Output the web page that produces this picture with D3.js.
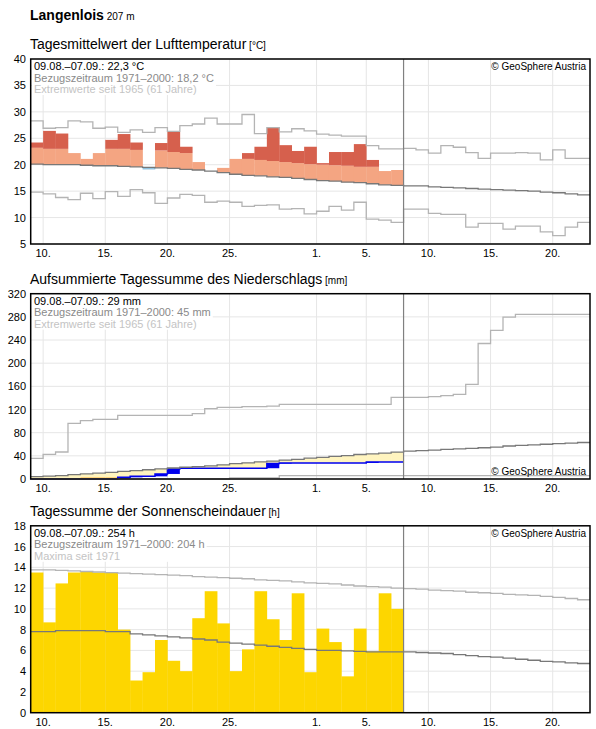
<!DOCTYPE html>
<html><head><meta charset="utf-8">
<script src="https://cdn.jsdelivr.net/npm/d3@7"></script>
<style>body{margin:0;background:#fff}text{font-family:"Liberation Sans",Arial,sans-serif}</style>
</head><body><svg width="596" height="729"></svg>
<script>
// days: index 0 = 09.08., 45 days shown, 30 measured
const nDays = 45, nData = 30;
const tickDays = [1, 6, 11, 16, 23, 27, 32, 37, 42];
const tickLabels = ["10.", "15.", "20.", "25.", "1.", "5.", "10.", "15.", "20."];

// temperature
const tempActual = [24.2,26.4,25.9,22.2,21.1,22.2,24.7,25.8,24.2,19.1,24.1,26.2,23.4,20.5,18.8,19.4,21.1,22.2,23.4,27.0,23.7,22.6,23.4,20.3,22.4,22.4,23.9,20.9,18.8,19.0];
const tempUpper = [23.2,23.0,23.0,22.8,22.7,22.7,23.0,23.0,22.8,22.6,22.7,22.4,22.2,21.9,21.6,21.4,21.2,21.1,20.9,20.7,20.5,20.3,20.1,20.0,19.9,19.8,19.6,19.6,19.4,19.3];
const tempNormal = [20.1,20.0,20.0,20.0,19.9,19.8,19.8,19.7,19.6,19.5,19.4,19.3,19.1,19.0,18.8,18.5,18.2,18.0,17.9,17.7,17.6,17.4,17.2,17.0,16.9,16.7,16.6,16.4,16.2,16.1,
  16.0,16.0,15.8,15.7,15.6,15.5,15.4,15.3,15.2,15.1,15.0,14.8,14.7,14.5,14.3];
const tempMax = [28.3,26.9,27.0,28.3,28.1,26.9,27.1,26.1,26.6,26.1,27.0,26.3,27.4,27.7,28.8,27.7,27.7,29.5,25.9,27.0,26.2,26.8,26.4,25.8,25.6,25.4,25.4,23.6,23.0,23.0,
  23.1,22.8,22.2,23.6,23.3,22.3,21.2,22.2,22.2,22.3,22.2,20.9,22.8,21.2,21.2];
const tempMin = [14.8,14.5,13.8,13.4,14.6,13.6,14.9,14.0,15.3,14.7,12.7,13.7,14.4,14.2,12.9,13.1,12.9,12.1,12.3,12.4,11.6,11.7,10.7,11.2,12.1,11.4,12.9,9.7,9.5,9.1,
  11.6,11.6,10.8,10.6,10.6,8.2,8.9,8.9,7.8,8.4,8.4,7.3,6.6,8.2,9.1];

// precipitation (cumulative mm)
const precipActual = [0,0,0,0,0,0,0,2.9,4.6,4.6,8.7,17.4,18.6,18.6,18.6,18.6,18.6,18.6,18.6,26.7,27.8,27.8,27.8,27.8,27.8,27.8,27.8,29.5,29.5,29.5];
const precipLow = [1,1,1,1,3,3,3,3,0,0,0,0,0,0,0,0,0,0,0,0,0,0,0,0,0,0,0,0,0,0];
const precipNormal = [4,5,6,7.5,9,10,11.6,13,14.5,16,17.4,19,20.3,21.5,22.6,24.5,26.7,28,29.6,31,32.5,34,36,37.5,38.9,40.5,42.3,43.5,44.7,46.5,
  48,49,50,51,52,53,54,55,57,58,59,60,61,62,63];
const precipMax = [35.7,42.6,46.6,96,100.7,103,103,110,110,110,110,110,110,113,121.4,123.7,123.7,124.9,124.9,126,129,129,129,129,129,129,129,129,129,141,
  141,141,142.2,143.9,146,163.5,234,256.7,279.7,284.3,284.3,284.3,284.3,284.3,284.3];
const precipMin = [0,0,0,0,0,0,0,0,0,0,0,0,0,0,0,0,2,2,2,2,6,6,6,6,6,6,6,6,6,6,
  6,6,6,6,6,6,6,6,6,6,6,6,6,6,6];

// sunshine (h)
const sunActual = [13.5,8.7,12.45,13.5,13.6,13.5,13.5,8.0,3.1,3.9,7.0,5.0,4.0,9.1,11.7,8.6,4.0,6.1,11.7,9.0,7.0,11.5,3.9,8.1,6.8,3.5,8.1,5.9,11.5,10.0];
const sunNormal = [7.8,7.8,7.9,7.9,7.9,7.9,7.8,7.8,7.6,7.5,7.4,7.3,7.2,7.1,7.0,6.8,6.7,6.6,6.5,6.4,6.3,6.2,6.1,6.0,6.0,5.95,5.9,5.85,5.85,5.85,
  5.85,5.8,5.75,5.7,5.6,5.5,5.4,5.35,5.25,5.15,5.05,4.95,4.9,4.8,4.74];
const sunMax = [13.76,13.75,13.7,13.65,13.6,13.55,13.5,13.45,13.4,13.35,13.3,13.25,13.2,13.1,13.05,13.0,12.95,12.9,12.8,12.75,12.7,12.6,12.5,12.45,12.4,12.3,12.2,12.15,12.1,12.0,
  11.94,11.9,11.8,11.75,11.7,11.6,11.55,11.5,11.4,11.35,11.3,11.2,11.1,11.0,10.88];

const svg = d3.select("svg");
const x = d3.scaleLinear().domain([0, nDays]).range([30.7, 590]);

svg.append("text").attr("x", 30).attr("y", 20).attr("font-size", 14).attr("font-weight", "bold").text("Langenlois")
  .append("tspan").attr("font-size", 10).attr("font-weight", "normal").text(" 207 m");

function stepPts(v) {
  const pts = v.map((d, i) => [i, d]);
  pts.push([v.length, v[v.length - 1]]);
  return pts;
}

function panel(o) {
  const y = d3.scaleLinear().domain(o.domain).range([o.bottom, o.top]);
  const g = svg.append("g");
  g.append("text").attr("x", 30).attr("y", o.top - 10).attr("font-size", 14).text(o.title)
    .append("tspan").attr("font-size", 10).text(" " + o.unit);
  // grid
  g.selectAll(".hg").data(o.ticks).join("line").attr("x1", x(0)).attr("x2", x(nDays))
    .attr("y1", d => y(d)).attr("y2", d => y(d)).attr("stroke", "#e6e6e6");
  g.selectAll(".vg").data(tickDays).join("line").attr("y1", o.top).attr("y2", o.bottom)
    .attr("x1", d => x(d)).attr("x2", d => x(d)).attr("stroke", "#e6e6e6");
  const line = d3.line().x(d => x(d[0])).y(d => y(d[1])).curve(d3.curveStepAfter);
  o.draw(g, y, line);
  // divider
  g.append("line").attr("x1", x(nData)).attr("x2", x(nData)).attr("y1", o.top).attr("y2", o.bottom).attr("stroke", "#808080").attr("stroke-width", 1.2);
  // info texts
  const info = g.append("g");
  o.info.forEach((t, i) => {
    info.append("text").attr("x", 34).attr("y", o.top + 11 + i * 11.5).attr("font-size", 11).attr("fill", ["#000", "#8a8a8a", "#c4c4c4"][i]).text(t);
  });
  const bb = info.node().getBBox();
  info.insert("rect", "text").attr("x", bb.x - 2).attr("y", bb.y).attr("width", bb.width + 4).attr("height", bb.height).attr("fill", "#fff");
  g.append("text").attr("x", 586).attr("y", o.copyBottom ? o.bottom - 4 : o.top + 11).attr("text-anchor", "end").attr("font-size", 10).text("© GeoSphere Austria");
  // frame
  g.append("rect").attr("x", x(0)).attr("y", o.top).attr("width", x(nDays) - x(0)).attr("height", o.bottom - o.top)
    .attr("fill", "none").attr("stroke", "#000").attr("stroke-width", 1.5);
  // axes labels
  g.selectAll(".yl").data(o.ticks).join("text").attr("x", 26).attr("y", d => y(d) + 4).attr("text-anchor", "end").attr("font-size", 11).text(d => d);
  g.selectAll(".xl").data(tickDays).join("text").attr("x", d => x(d)).attr("y", o.bottom + 13).attr("text-anchor", "middle")
    .attr("font-size", 11).text((d, i) => tickLabels[i]);
}

panel({
  top: 59, bottom: 244, domain: [5, 40], ticks: d3.range(5, 41, 5),
  title: "Tagesmittelwert der Lufttemperatur", unit: "[°C]",
  info: ["09.08.–07.09.: 22,3 °C", "Bezugszeitraum 1971–2000: 18,2 °C", "Extremwerte seit 1965 (61 Jahre)"],
  draw(g, y, line) {
    const w = x(1) - x(0);
    tempActual.forEach((t, i) => {
      const n = tempNormal[i], u = tempUpper[i];
      if (t > n) g.append("rect").attr("x", x(i)).attr("width", w + 0.3).attr("y", y(Math.min(t, u))).attr("height", y(n) - y(Math.min(t, u))).attr("fill", "#f4a582");
      if (t > u) g.append("rect").attr("x", x(i)).attr("width", w + 0.3).attr("y", y(t)).attr("height", y(u) - y(t)).attr("fill", "#d6604d");
      if (t < n) g.append("rect").attr("x", x(i)).attr("width", w + 0.3).attr("y", y(n)).attr("height", y(t) - y(n)).attr("fill", "#8fc1de");
    });
    g.append("path").attr("d", line(stepPts(tempMax))).attr("fill", "none").attr("stroke", "#b4b4b4").attr("stroke-width", 1.3);
    g.append("path").attr("d", line(stepPts(tempMin))).attr("fill", "none").attr("stroke", "#b4b4b4").attr("stroke-width", 1.3);
    g.append("path").attr("d", line(stepPts(tempNormal))).attr("fill", "none").attr("stroke", "#787878").attr("stroke-width", 1.3);
  }
});

panel({
  top: 293.7, bottom: 479, domain: [0, 320], ticks: d3.range(0, 321, 40),
  title: "Aufsummierte Tagessumme des Niederschlags", unit: "[mm]", copyBottom: true,
  info: ["09.08.–07.09.: 29 mm", "Bezugszeitraum 1971–2000: 45 mm", "Extremwerte seit 1965 (61 Jahre)"],
  draw(g, y, line) {
    const w = x(1) - x(0);
    precipActual.forEach((p, i) => {
      const n = precipNormal[i];
      if (n > p) g.append("rect").attr("x", x(i)).attr("width", w + 0.3).attr("y", y(n)).attr("height", y(p) - y(n)).attr("fill", "#fff4bf");
      if (precipLow[i] > p) g.append("rect").attr("x", x(i)).attr("width", w + 0.3).attr("y", y(precipLow[i])).attr("height", y(p) - y(precipLow[i])).attr("fill", "#ffc966");
      const prev = i ? precipActual[i - 1] : 0;
      if (p > prev) g.append("rect").attr("x", x(i)).attr("width", w).attr("y", y(p)).attr("height", y(prev) - y(p)).attr("fill", "#0000ee");
    });
    g.append("path").attr("d", line(stepPts(precipActual))).attr("fill", "none").attr("stroke", "#0000ee").attr("stroke-width", 1.5);
    g.append("path").attr("d", line(stepPts(precipMax))).attr("fill", "none").attr("stroke", "#b4b4b4").attr("stroke-width", 1.3);
    g.append("path").attr("d", line(stepPts(precipMin))).attr("fill", "none").attr("stroke", "#b4b4b4").attr("stroke-width", 1.3);
    g.append("path").attr("d", line(stepPts(precipNormal))).attr("fill", "none").attr("stroke", "#787878").attr("stroke-width", 1.3);
  }
});

panel({
  top: 525.8, bottom: 712.7, domain: [0, 18], ticks: d3.range(0, 19, 2),
  title: "Tagessumme der Sonnenscheindauer", unit: "[h]",
  info: ["09.08.–07.09.: 254 h", "Bezugszeitraum 1971–2000: 204 h", "Maxima seit 1971"],
  draw(g, y, line) {
    const w = x(1) - x(0);
    g.selectAll(".sb").data(sunActual).join("rect").attr("x", (d, i) => x(i)).attr("width", w + 0.3)
      .attr("y", d => y(d)).attr("height", d => y(0) - y(d)).attr("fill", "#fdd600");
    g.append("path").attr("d", line(stepPts(sunMax))).attr("fill", "none").attr("stroke", "#b4b4b4").attr("stroke-width", 1.3);
    g.append("path").attr("d", line(stepPts(sunNormal))).attr("fill", "none").attr("stroke", "#787878").attr("stroke-width", 1.3);
  }
});
</script></body></html>
